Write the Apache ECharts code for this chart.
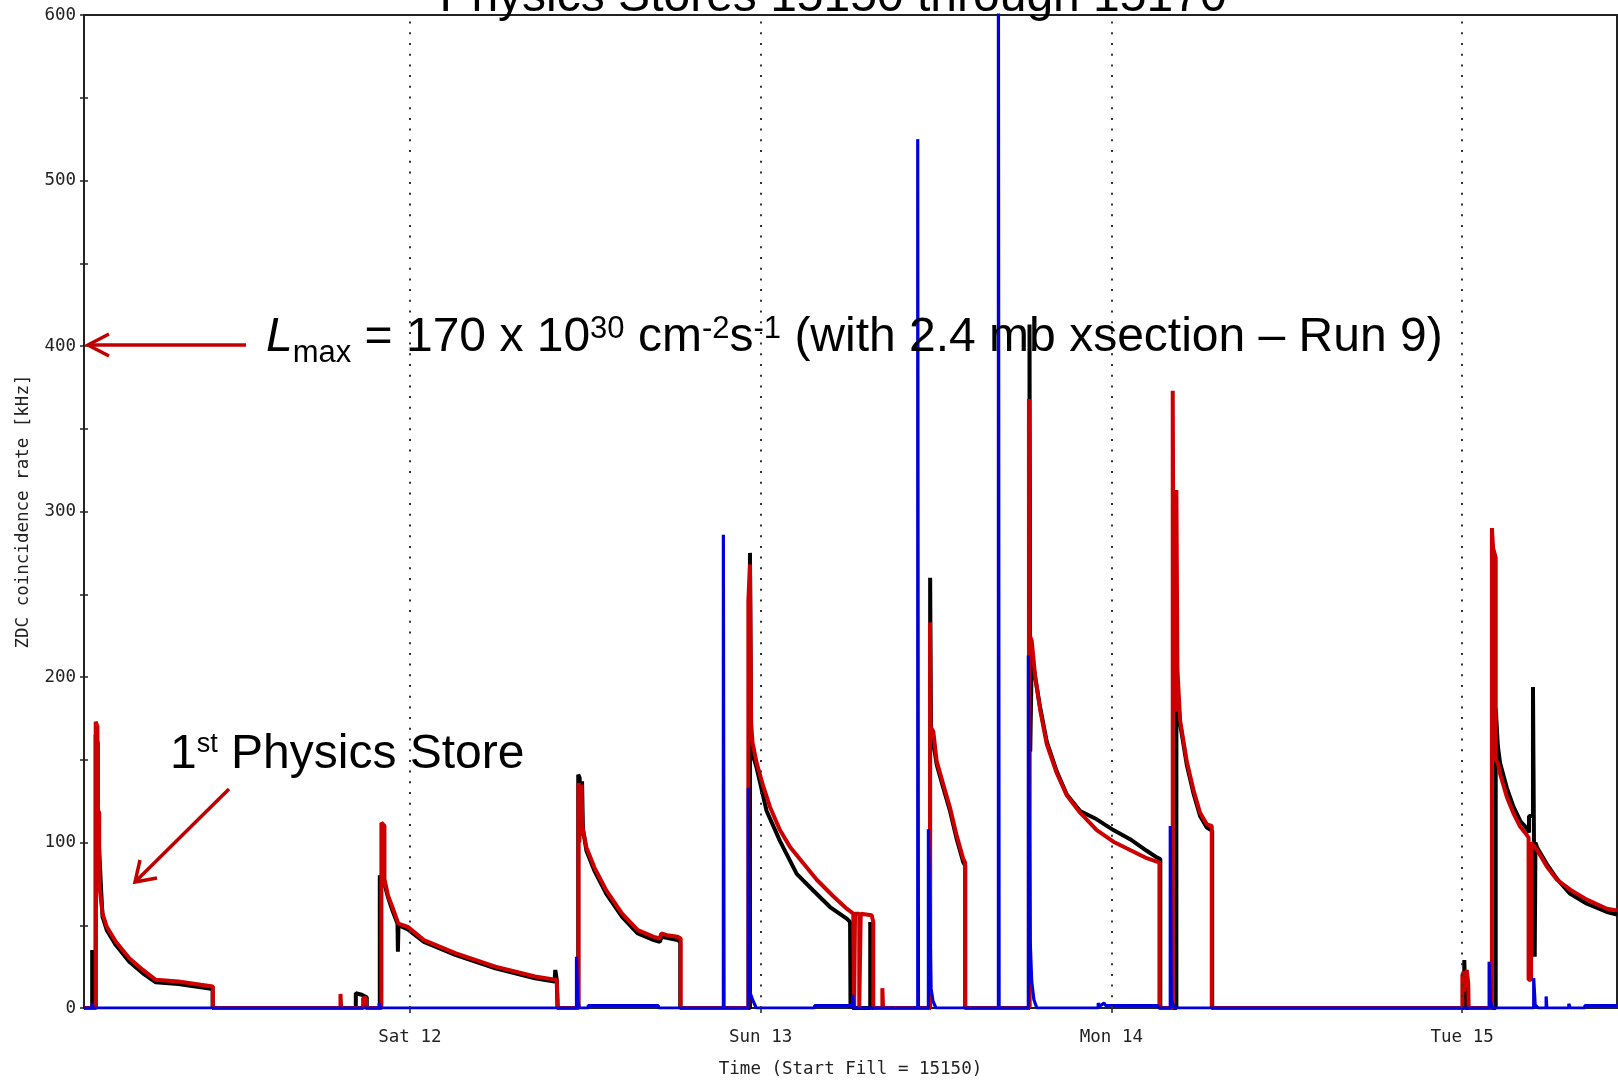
<!DOCTYPE html>
<html>
<head>
<meta charset="utf-8">
<script src="https://cdn.jsdelivr.net/npm/echarts@6/dist/echarts.min.js"></script>
<style>
  html, body { margin: 0; padding: 0; background: #fff; }
  #chart { width: 1618px; height: 1081px; }
</style>
</head>
<body>
<div id="chart"></div>
<script>
// x = hours from Sat 12 00:00
const dayTicks = [0, 24, 48, 72];
const dayLabels = ['Sat 12', 'Sun 13', 'Mon 14', 'Tue 15'];
const yTicks = [0, 100, 200, 300, 400, 500, 600];

// ZDC coincidence rate [kHz] as [hour, value]
const blackRate = [
  [-22.3, 0],
  [-21.74, 0], [-21.74, 35], [-21.68, 35], [-21.68, 0],
  [-21.5, 0], [-21.5, 165], [-21.36, 160], [-21.36, 112], [-21.22, 88], [-21.12, 70], [-21.03, 55], [-20.74, 47], [-20.12, 38], [-19.2, 28], [-18.27, 21], [-17.39, 15.5], [-15.84, 14.5], [-14.31, 12.5], [-13.5, 11.5], [-13.5, 0],
  [-3.7, 0], [-3.7, 9], [-3.3, 8], [-2.95, 6.5], [-2.95, 0],
  [-2.06, 0], [-2.06, 80], [-1.8, 77], [-1.5, 67], [-1.2, 59], [-0.85, 51], [-0.82, 34], [-0.78, 50], [-0.14, 47.5], [0.96, 40], [3.15, 32], [5.85, 24], [8.56, 18], [9.9, 16], [9.95, 23], [10.05, 17], [10.1, 0],
  [11.52, 0], [11.52, 141], [11.62, 139], [11.62, 104], [11.78, 137], [11.84, 108], [12.08, 95], [12.62, 83], [13.44, 69], [14.52, 55], [15.6, 45], [16.69, 41], [17.1, 40], [17.23, 43], [18.32, 41], [18.5, 40], [18.5, 0],
  [23.27, 0], [23.27, 275], [23.36, 275], [23.36, 150], [23.5, 152], [23.73, 145], [24.41, 119], [25.32, 101], [26.47, 81], [27.6, 71], [28.75, 61], [29.89, 54], [30.12, 52], [30.15, 0], [30.25, 0], [30.25, 52], [30.3, 0], [31.5, 0], [31.5, 52], [31.6, 0],
  [35.6, 0], [35.6, 260], [35.66, 260], [35.66, 163], [35.82, 160], [36.05, 147], [36.5, 133], [36.96, 119], [37.42, 102], [37.87, 88], [38.0, 86], [38.0, 0],
  [42.4, 0], [42.4, 413], [42.45, 413], [42.45, 155], [42.55, 212], [42.7, 205], [42.78, 200], [43.12, 182], [43.58, 161], [44.26, 143], [44.95, 129], [45.86, 119], [47.0, 114], [48.14, 107.5], [49.28, 102], [50.42, 95], [51.1, 91], [51.35, 90], [51.35, 0],
  [52.45, 0], [52.45, 203], [52.7, 172], [53.16, 147], [53.61, 130], [54.07, 116], [54.53, 109], [54.9, 107], [54.9, 0],
  [72.15, 0], [72.15, 29], [72.25, 29], [72.25, 0],
  [74.3, 0], [74.3, 181], [74.45, 158], [74.6, 148], [75.06, 133], [75.52, 121.5], [75.98, 113], [76.43, 108.5], [76.58, 106], [76.58, 116], [76.85, 116], [76.85, 194], [76.97, 194], [76.97, 31], [77.02, 100], [77.13, 97], [77.8, 87], [78.49, 78], [79.4, 69], [80.54, 63], [81.91, 58], [82.6, 56.5]
];

const redRate = [
  [-22.3, 0],
  [-21.5, 0], [-21.5, 173], [-21.38, 170], [-21.38, 120], [-21.26, 118], [-21.26, 75], [-21.03, 57], [-20.74, 49], [-20.12, 40], [-19.2, 30], [-18.27, 23], [-17.39, 17], [-15.84, 16], [-14.31, 14], [-13.48, 13], [-13.48, 0],
  [-4.75, 0], [-4.75, 8.5], [-4.7, 0],
  [-3.2, 0], [-3.2, 6], [-3.0, 6], [-3.0, 0],
  [-1.95, 0], [-1.95, 112], [-1.74, 110], [-1.74, 78], [-1.5, 68], [-1.2, 61], [-0.79, 51], [-0.14, 49], [0.96, 41], [3.15, 33], [5.85, 25], [8.56, 19], [10.05, 17], [10.13, 17], [10.13, 0],
  [11.54, 0], [11.54, 136], [11.6, 130], [11.6, 100], [11.75, 135], [11.8, 110], [12.08, 97], [12.62, 85], [13.44, 71], [14.52, 57], [15.6, 47], [16.69, 43], [17.1, 42], [17.2, 45], [17.6, 44], [18.32, 43], [18.53, 42], [18.53, 0],
  [23.16, 0], [23.16, 246], [23.27, 246], [23.27, 268], [23.35, 268], [23.35, 172], [23.45, 160], [23.5, 158], [23.73, 148], [24.18, 134], [24.64, 121.5], [25.32, 107.5], [26.0, 97.5], [26.92, 87.5], [27.84, 77.5], [28.97, 67.5], [29.89, 60], [30.34, 57], [30.4, 0], [30.46, 0], [30.46, 57], [30.75, 57], [30.75, 0], [30.85, 0], [30.85, 57], [31.6, 56], [31.71, 52], [31.71, 0],
  [32.33, 0], [32.33, 12], [32.38, 0],
  [35.59, 0], [35.59, 233], [35.63, 233], [35.63, 170], [35.82, 167], [36.05, 149], [36.5, 135], [36.96, 121], [37.42, 104], [37.87, 90], [37.99, 88], [37.99, 0],
  [42.36, 0], [42.36, 368], [42.42, 368], [42.42, 225], [42.55, 222], [42.78, 201], [43.12, 180.5], [43.58, 159.5], [44.26, 142], [44.95, 128.5], [45.86, 118], [47.0, 107.5], [48.14, 100.5], [49.28, 95.5], [50.42, 90.5], [51.1, 88.5], [51.29, 88], [51.29, 0],
  [52.2, 0], [52.2, 373], [52.28, 373], [52.28, 180], [52.45, 180], [52.45, 313], [52.52, 313], [52.52, 205], [52.7, 174], [53.16, 149], [53.61, 132], [54.07, 118], [54.53, 111], [54.87, 110], [54.87, 0],
  [72.02, 0], [72.02, 20], [72.12, 22], [72.12, 10], [72.22, 18], [72.32, 23], [72.42, 15], [72.45, 0],
  [74.04, 0], [74.04, 290], [74.12, 290], [74.12, 278], [74.3, 272], [74.3, 150], [74.45, 148], [74.6, 141.5], [75.06, 127.5], [75.52, 117.5], [75.98, 109.5], [76.43, 104.5], [76.55, 103], [76.55, 17], [76.72, 17], [76.72, 100], [77.13, 95.5], [77.8, 85.5], [78.49, 77.5], [79.4, 71.5], [80.54, 65.5], [81.91, 60], [82.6, 59]
];

const blueRate = [
  [-22.3, 0],
  [-21.74, 0], [-21.74, 3], [-21.7, 0],
  [-2.1, 0], [-2.1, 3], [-2.02, 0],
  [11.4, 0], [11.4, 31], [11.48, 4], [11.6, 0],
  [12.2, 0], [12.2, 1.5], [17.0, 1.5], [17.0, 0],
  [21.45, 0], [21.45, 286], [21.5, 286], [21.5, 0],
  [23.15, 0], [23.15, 133], [23.22, 133], [23.25, 10], [23.45, 5], [23.7, 0],
  [27.7, 0], [27.7, 1.5], [30.3, 1.5], [30.3, 8], [30.38, 0],
  [34.75, 0], [34.75, 525], [34.8, 525], [34.8, 0],
  [35.48, 0], [35.48, 108], [35.55, 108], [35.58, 60], [35.66, 12], [35.8, 4], [36.0, 0],
  [40.27, 0], [40.27, 650], [40.32, 650], [40.32, 0],
  [42.32, 0], [42.32, 213], [42.38, 213], [42.4, 100], [42.45, 40], [42.55, 16], [42.7, 5], [42.9, 0],
  [47.1, 0], [47.1, 3], [47.2, 1], [47.5, 3], [47.6, 1.5], [51.2, 1.5], [51.2, 0],
  [52.03, 0], [52.03, 110], [52.08, 110], [52.1, 5], [52.3, 0],
  [73.85, 0], [73.85, 28], [73.9, 28], [73.93, 5], [74.05, 0],
  [76.9, 0], [76.9, 18], [76.97, 18], [77.0, 2], [77.2, 0],
  [77.75, 0], [77.75, 7], [77.8, 0],
  [79.3, 0], [79.3, 2.5], [79.4, 0],
  [80.4, 0], [80.4, 1.5], [82.6, 1.5]
];

const monoFont = '"DejaVu Sans Mono", "Liberation Mono", monospace';
const sansFont = '"Liberation Sans", Arial, sans-serif';
const darkRed = '#c00000';

// rich text styles for the annotations (superscript / subscript)
// main text and superscripts hang from the top of the line, subscripts sit on its bottom
const richStyles = {
  n: { fontSize: 48, lineHeight: 55, verticalAlign: 'top', fontFamily: sansFont, fill: '#000', color: '#000' },
  i: { fontSize: 48, lineHeight: 55, verticalAlign: 'top', fontFamily: sansFont, fontStyle: 'italic', fill: '#000', color: '#000' },
  sup: { fontSize: 31, lineHeight: 55, verticalAlign: 'top', fontFamily: sansFont, fill: '#000', color: '#000' },
  supS: { fontSize: 27, lineHeight: 55, verticalAlign: 'top', fontFamily: sansFont, fill: '#000', color: '#000' },
  sub: { fontSize: 31, lineHeight: 55, verticalAlign: 'bottom', fontFamily: sansFont, fill: '#000', color: '#000' }
};

let chart = echarts.init(document.getElementById('chart'));

let yCommon = { type: 'value', min: 0, max: 600, interval: 50 };

let option = {
  animation: false,
  backgroundColor: '#fff',
  grid: {
    left: 84,
    right: 1,
    top: 15,
    bottom: 73,
    outerBoundsMode: 'none',
    containLabel: false,
    show: true,
    borderColor: '#222',
    borderWidth: 2
  },
  xAxis: {
    type: 'value',
    min: -22.3,
    max: 82.6,
    name: 'Time (Start Fill = 15150)',
    nameLocation: 'middle',
    nameGap: 52,
    nameTextStyle: { fontFamily: monoFont, fontSize: 17.5, color: '#222' },
    axisLine: { show: true, onZero: false, lineStyle: { color: '#222', width: 2 } },
    axisTick: { show: true, customValues: dayTicks, length: 5, lineStyle: { color: '#222', width: 1.5 } },
    axisLabel: {
      customValues: dayTicks,
      margin: 20,
      fontFamily: monoFont,
      fontSize: 17.5,
      color: '#222',
      formatter: v => dayLabels[dayTicks.indexOf(v)] || ''
    },
    splitLine: { show: false }
  },
  yAxis: [
    Object.assign({}, yCommon, {
      name: 'ZDC coincidence rate [kHz]',
      nameLocation: 'middle',
      nameGap: 52,
      nameTextStyle: { fontFamily: monoFont, fontSize: 17.5, color: '#222' },
      axisLine: { show: true, onZero: false, lineStyle: { color: '#222', width: 2 } },
      axisTick: { show: true, length: 4, lineStyle: { color: '#222', width: 1.5 } },
      axisLabel: {
        margin: 8,
        fontFamily: monoFont,
        fontSize: 17.5,
        color: '#222',
        formatter: v => (yTicks.indexOf(v) >= 0 ? String(v) : '')
      },
      splitLine: { show: false }
    }),
    // inner half of the crossing ticks
    Object.assign({}, yCommon, {
      position: 'left',
      axisLine: { show: false, onZero: false },
      axisTick: { show: true, inside: true, length: 4, lineStyle: { color: '#222', width: 1.5 } },
      axisLabel: { show: false },
      splitLine: { show: false }
    })
  ],
  series: [
    {
      name: 'black',
      type: 'line',
      data: blackRate,
      symbol: 'none',
      clip: true,
      lineStyle: { color: '#000', width: 4 },
      markLine: {
        silent: true,
        symbol: ['none', 'none'],
        label: { show: false },
        lineStyle: { color: '#333', width: 2, type: [2, 8.7] },
        data: dayTicks.map(d => ({ xAxis: d }))
      }
    },
    {
      name: 'red',
      type: 'line',
      data: redRate,
      symbol: 'none',
      clip: true,
      lineStyle: { color: '#cc0000', width: 4 }
    },
    {
      name: 'blue',
      type: 'line',
      data: blueRate,
      symbol: 'none',
      clip: true,
      lineStyle: { color: '#0000dd', width: 3.2 }
    }
  ],
  graphic: [
    {
      type: 'text',
      x: 833,
      y: -2,
      z: 100,
      style: {
        text: 'Physics Stores 15150 through 15170',
        fontSize: 48,
        fontFamily: sansFont,
        fill: '#000',
        align: 'center',
        verticalAlign: 'middle',
        textAlign: 'center',
        textVerticalAlign: 'middle'
      }
    },
    {
      type: 'text',
      x: 266,
      y: 314,
      z: 100,
      style: {
        text: '{i|L}{sub|max}{n| = 170 x 10}{sup|30}{n| cm}{sup|-2}{n|s}{sup|-1}{n| (with 2.4 mb xsection \u2013 Run 9)}',
        rich: richStyles,
        fontSize: 48,
        fontFamily: sansFont,
        fill: '#000',
        align: 'left',
        verticalAlign: 'top'
      }
    },
    {
      type: 'text',
      x: 170,
      y: 731,
      z: 100,
      style: {
        text: '{n|1}{supS|st}{n| Physics Store}',
        rich: richStyles,
        fontSize: 48,
        fontFamily: sansFont,
        fill: '#000',
        align: 'left',
        verticalAlign: 'top'
      }
    },
    // arrows
    {
      type: 'polyline', z: 100,
      shape: { points: [[246, 345], [88, 345]] },
      style: { stroke: darkRed, lineWidth: 3.5, fill: null }
    },
    {
      type: 'polyline', z: 100,
      shape: { points: [[109, 334], [88, 345], [109, 356]] },
      style: { stroke: darkRed, lineWidth: 3.5, fill: null }
    },
    {
      type: 'polyline', z: 100,
      shape: { points: [[229, 789], [136, 881]] },
      style: { stroke: darkRed, lineWidth: 3.5, fill: null }
    },
    {
      type: 'polyline', z: 100,
      shape: { points: [[140, 860], [135, 882], [157, 878]] },
      style: { stroke: darkRed, lineWidth: 3.5, fill: null }
    }
  ]
};

chart.setOption(option);
</script>
</body>
</html>
